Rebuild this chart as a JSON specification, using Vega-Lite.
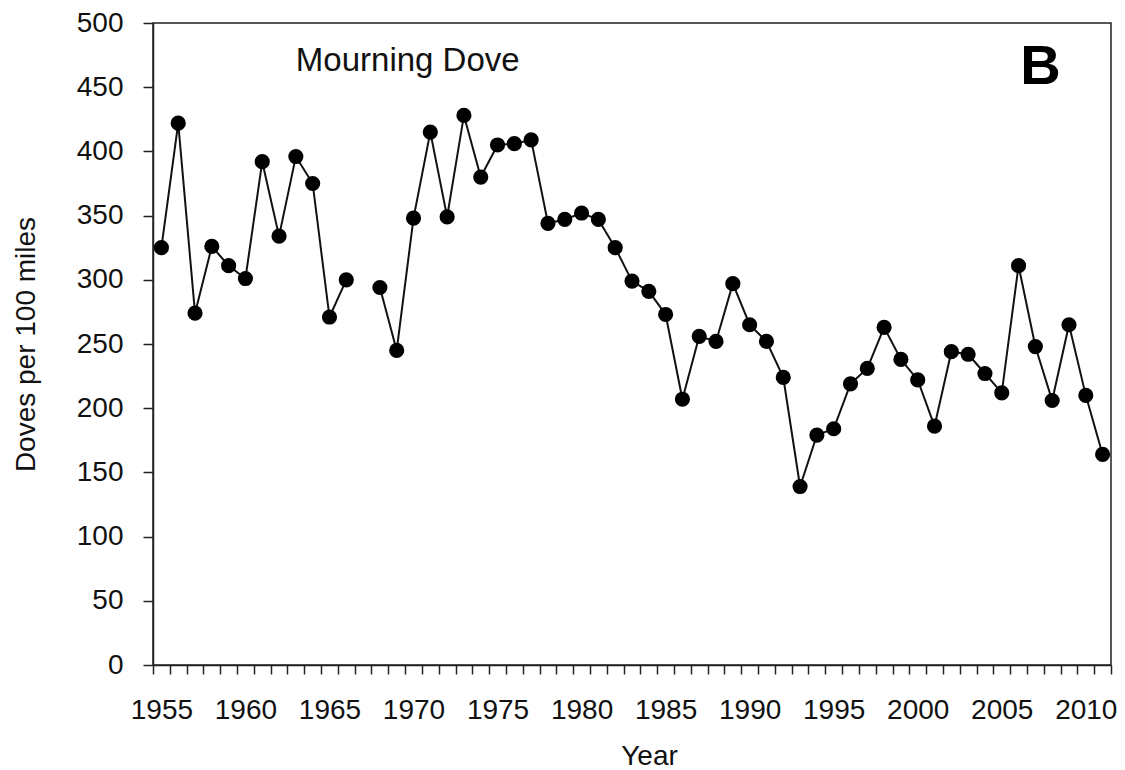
{
  "$schema": "https://vega.github.io/schema/vega-lite/v6.json",
  "width": 958,
  "height": 642,
  "autosize": {"type": "none"},
  "padding": {"left": 153, "top": 23, "right": 14, "bottom": 105},
  "background": "white",
  "config": {
    "font": "Liberation Sans",
    "view": {"stroke": "#222", "strokeWidth": 1.5},
    "axis": {
      "domainColor": "#222", "domainWidth": 1.5,
      "tickColor": "#222", "tickWidth": 1.5,
      "labelColor": "#111", "titleColor": "#111",
      "labelFont": "Liberation Sans", "titleFont": "Liberation Sans",
      "labelFontSize": 28, "titleFontSize": 28, "titleFontWeight": "normal",
      "grid": false
    }
  },
  "data": {
    "values": [
      {"year": 1955, "doves": 325}, {"year": 1956, "doves": 422}, {"year": 1957, "doves": 274},
      {"year": 1958, "doves": 326}, {"year": 1959, "doves": 311}, {"year": 1960, "doves": 301},
      {"year": 1961, "doves": 392}, {"year": 1962, "doves": 334}, {"year": 1963, "doves": 396},
      {"year": 1964, "doves": 375}, {"year": 1965, "doves": 271}, {"year": 1966, "doves": 300},
      {"year": 1967, "doves": null}, {"year": 1968, "doves": 294}, {"year": 1969, "doves": 245},
      {"year": 1970, "doves": 348}, {"year": 1971, "doves": 415}, {"year": 1972, "doves": 349},
      {"year": 1973, "doves": 428}, {"year": 1974, "doves": 380}, {"year": 1975, "doves": 405},
      {"year": 1976, "doves": 406}, {"year": 1977, "doves": 409}, {"year": 1978, "doves": 344},
      {"year": 1979, "doves": 347}, {"year": 1980, "doves": 352}, {"year": 1981, "doves": 347},
      {"year": 1982, "doves": 325}, {"year": 1983, "doves": 299}, {"year": 1984, "doves": 291},
      {"year": 1985, "doves": 273}, {"year": 1986, "doves": 207}, {"year": 1987, "doves": 256},
      {"year": 1988, "doves": 252}, {"year": 1989, "doves": 297}, {"year": 1990, "doves": 265},
      {"year": 1991, "doves": 252}, {"year": 1992, "doves": 224}, {"year": 1993, "doves": 139},
      {"year": 1994, "doves": 179}, {"year": 1995, "doves": 184}, {"year": 1996, "doves": 219},
      {"year": 1997, "doves": 231}, {"year": 1998, "doves": 263}, {"year": 1999, "doves": 238},
      {"year": 2000, "doves": 222}, {"year": 2001, "doves": 186}, {"year": 2002, "doves": 244},
      {"year": 2003, "doves": 242}, {"year": 2004, "doves": 227}, {"year": 2005, "doves": 212},
      {"year": 2006, "doves": 311}, {"year": 2007, "doves": 248}, {"year": 2008, "doves": 206},
      {"year": 2009, "doves": 265}, {"year": 2010, "doves": 210}, {"year": 2011, "doves": 164}
    ]
  },
  "resolve": {"axis": {"x": "independent"}},
  "layer": [
    {
      "mark": {"type": "line", "color": "#111", "strokeWidth": 2, "invalid": "break-paths-show-domains"},
      "encoding": {
        "x": {
          "field": "year", "type": "quantitative",
          "scale": {"domain": [1954.5, 2011.5], "nice": false, "zero": false},
          "axis": {
            "orient": "bottom",
            "title": null,
            "values": [1954.5, 1955.5, 1956.5, 1957.5, 1958.5, 1959.5, 1960.5, 1961.5, 1962.5, 1963.5, 1964.5, 1965.5, 1966.5, 1967.5, 1968.5, 1969.5, 1970.5, 1971.5, 1972.5, 1973.5, 1974.5, 1975.5, 1976.5, 1977.5, 1978.5, 1979.5, 1980.5, 1981.5, 1982.5, 1983.5, 1984.5, 1985.5, 1986.5, 1987.5, 1988.5, 1989.5, 1990.5, 1991.5, 1992.5, 1993.5, 1994.5, 1995.5, 1996.5, 1997.5, 1998.5, 1999.5, 2000.5, 2001.5, 2002.5, 2003.5, 2004.5, 2005.5, 2006.5, 2007.5, 2008.5, 2009.5, 2010.5, 2011.5],
            "labels": false,
            "tickSize": 9
          }
        },
        "y": {
          "field": "doves", "type": "quantitative",
          "scale": {"domain": [0, 500], "nice": false},
          "axis": {
            "title": "Doves per 100 miles",
            "values": [0, 50, 100, 150, 200, 250, 300, 350, 400, 450, 500],
            "tickSize": 10, "labelPadding": 20, "titlePadding": 36
          }
        }
      }
    },
    {
      "mark": {"type": "point", "filled": true, "color": "#000", "size": 230, "opacity": 1},
      "encoding": {
        "x": {
          "field": "year", "type": "quantitative",
          "axis": {
            "orient": "bottom",
            "title": "Year",
            "values": [1955, 1960, 1965, 1970, 1975, 1980, 1985, 1990, 1995, 2000, 2005, 2010],
            "format": "d",
            "ticks": false, "domain": false, "tickSize": 0,
            "labelOverlap": false, "labelFlush": false, "labelBound": false,
            "labelPadding": 31, "titlePadding": 18, "titleX": 496
          }
        },
        "y": {"field": "doves", "type": "quantitative"}
      }
    },
    {
      "data": {"values": [{}]},
      "mark": {"type": "text", "text": "Mourning Dove", "fontSize": 33, "align": "left", "baseline": "alphabetic", "color": "#111"},
      "encoding": {"x": {"datum": 1963.0, "axis": null}, "y": {"datum": 463}}
    },
    {
      "data": {"values": [{}]},
      "mark": {"type": "text", "text": "B", "fontSize": 56, "fontWeight": "bold", "align": "center", "baseline": "middle", "color": "#000"},
      "encoding": {"x": {"datum": 2007.3, "axis": null}, "y": {"datum": 466}}
    }
  ]
}
